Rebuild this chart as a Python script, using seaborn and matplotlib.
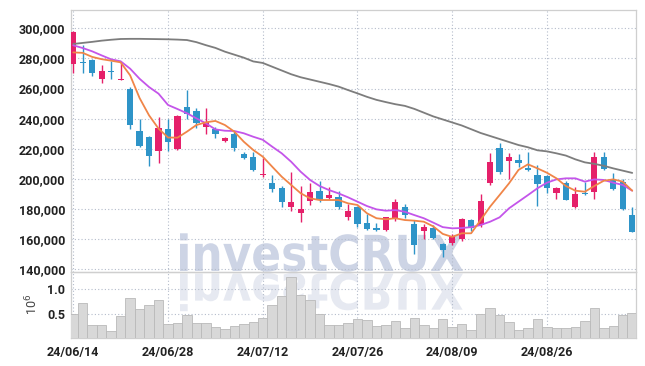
import matplotlib
matplotlib.use('Agg')
import numpy as np
import pandas as pd
import matplotlib.pyplot as plt
import seaborn as sns
from matplotlib.textpath import TextPath
from matplotlib.patches import PathPatch
from matplotlib.font_manager import FontProperties
from matplotlib.transforms import Affine2D

# daily candles (KRW), 60 trading days 24/06/14 .. 24/09/06
opens = [276500, 277800, 279200, 266100, 271800, 265800, 259900, 231800, 228000, 218700,
         233100, 220100, 247800, 245100, 234700, 233100, 225400, 229800, 216500, 214700,
         202400, 197500, 194000, 181500, 177600, 185100, 192200, 187300, 188000, 174700,
         181600, 170500, 167400, 166100, 174100, 181200, 170000, 165600, 167400, 156700,
         157600, 159900, 172700, 169400, 197500, 220300, 212100, 212600, 207500, 202600,
         201900, 190900, 197100, 181200, 190200, 191100, 214400, 199300, 198200, 176000]
closes = [297500, 276800, 270000, 271700, 271200, 266300, 236000, 222000, 215500, 233600,
          224700, 241800, 243100, 237000, 237600, 230000, 227400, 220700, 213900, 206000,
          203600, 193500, 184900, 184700, 180000, 191300, 186000, 189300, 181600, 178900,
          170000, 166500, 166200, 174500, 184700, 175900, 156100, 167900, 161000, 152800,
          162100, 173400, 167200, 185400, 211200, 204600, 214400, 210400, 205800, 196400,
          194200, 193800, 186200, 190000, 189800, 214400, 206400, 193300, 179800, 165000]
highs = [298000, 288700, 279500, 275400, 278000, 277000, 261000, 239600, 228800, 241300,
         239600, 242500, 259000, 247300, 247300, 234700, 227600, 231800, 218000, 218000,
         214000, 202600, 195300, 204600, 195500, 197500, 198800, 194900, 192200, 183400,
         182200, 176700, 170500, 175000, 186500, 183400, 172700, 170000, 169400, 157500,
         163400, 174000, 173300, 190000, 217000, 223600, 217000, 216600, 218100, 209200,
         202500, 194900, 198800, 194400, 198200, 218100, 218100, 204100, 199700, 181200]
lows = [270500, 270000, 268500, 264000, 266500, 265500, 233400, 221000, 208600, 210800,
        218700, 219500, 239600, 233500, 229600, 227400, 224700, 218500, 213200, 205500,
        201500, 191300, 181200, 178800, 171400, 182700, 184700, 186800, 179800, 172700,
        167900, 165900, 165500, 165300, 171900, 174100, 150200, 159900, 160100, 148400,
        155900, 159000, 165600, 168300, 196000, 203100, 199700, 208100, 205300, 182000,
        190900, 186500, 185800, 180800, 189300, 186700, 206000, 192800, 179500, 164800]

# moving averages as drawn
ma_short = [284000, 283700, 281000, 279500, 278500, 277400, 268800, 253700, 242200, 233400,
            227500, 227400, 231400, 235800, 237600, 238500, 235800, 231400, 224700, 219200,
            214800, 208100, 201500, 196000, 190500, 187100, 186000, 186000, 186000, 183800,
            182700, 177200, 173900, 173200, 173900, 172700, 172300, 171600, 168500, 163500,
            161500, 163900, 163900, 172700, 181600, 189300, 197100, 206000, 209700, 207000,
            204100, 200400, 195300, 192200, 191500, 195300, 198800, 199700, 198200, 192200]
ma_mid = [288700, 286900, 284700, 282000, 279400, 278100, 273200, 266500, 261000, 256600,
          249100, 246400, 243600, 240200, 236900, 232900, 232000, 231800, 230300, 228000,
          226000, 221400, 217000, 211400, 204800, 199300, 195300, 192600, 190400, 187800,
          184900, 182000, 179800, 178900, 179300, 178200, 176000, 173900, 171000, 168000,
          167200, 167400, 168000, 169400, 171600, 174500, 180500, 184900, 189300, 193800,
          197500, 199700, 200400, 200400, 198200, 199700, 199300, 197500, 196000, 192200]
ma_long = [289600, 290300, 291000, 291800, 292400, 292900, 293000, 293000, 292900, 292800,
           292700, 292500, 292200, 290800, 288800, 287000, 284500, 282500, 280500, 278000,
           277000, 274500, 272000, 269500, 267500, 266000, 264500, 263000, 261300, 259000,
           256800, 254500, 252500, 251000, 249600, 248500, 246500, 244000, 241500, 239500,
           237500, 235500, 233000, 230500, 228500, 226500, 224500, 222500, 221000, 219000,
           218300, 217000, 215500, 213000, 211000, 210000, 208700, 207000, 205500, 204000]

# volume in millions of shares
volume = [0.50, 0.72, 0.29, 0.29, 0.17, 0.47, 0.82, 0.61, 0.68, 0.78,
          0.31, 0.33, 0.49, 0.32, 0.32, 0.25, 0.20, 0.27, 0.31, 0.35,
          0.43, 0.68, 0.86, 1.23, 0.88, 0.78, 0.51, 0.29, 0.29, 0.33,
          0.41, 0.39, 0.27, 0.29, 0.37, 0.22, 0.42, 0.29, 0.22, 0.40,
          0.24, 0.31, 0.18, 0.51, 0.62, 0.49, 0.34, 0.18, 0.22, 0.40,
          0.24, 0.22, 0.22, 0.24, 0.36, 0.62, 0.22, 0.26, 0.49, 0.52]

tick_pos = [0, 10, 20, 30, 40, 50]
tick_labels = ['24/06/14', '24/06/28', '24/07/12', '24/07/26', '24/08/09', '24/08/26']
price_ticks = [140000, 160000, 180000, 200000, 220000, 240000, 260000, 280000, 300000]

df = pd.DataFrame({'open': opens, 'close': closes, 'high': highs, 'low': lows,
                   'ma5': ma_short, 'ma10': ma_mid, 'ma60': ma_long, 'vol': volume})
df['day'] = np.arange(len(df))

sns.set_style('white')
plt.rcParams['font.family'] = ['Roboto', 'DejaVu Sans']

UP = '#e5206a'
DOWN = '#2e94c8'
GRID = '#b4bccb'
SPINE = '#cfcfcf'

fig = plt.figure(figsize=(6.45, 3.66), dpi=100)
ax = fig.add_axes([71/645, (366-271.5)/366, 565/645, 261.5/366])
axv = fig.add_axes([71/645, (366-337.7)/366, 565/645, 65.7/366], sharex=ax)
for a in (ax, axv):
    a.set_facecolor('none')

# watermark + reflection, behind everything
fp = FontProperties(family='DejaVu Sans', weight='bold')
tp = TextPath((0, 0), 'investCRUX', size=1, prop=fp)
ext = tp.get_extents()
sx = 283 / ext.width
sy = 37.7 / ext.y1
px = Affine2D().scale(1/100.0)
wm = PathPatch(tp, transform=Affine2D().translate(-ext.x0, 0).scale(sx, sy).translate(180, 95) + px + fig.dpi_scale_trans,
               facecolor='#cdd4e5', edgecolor='none', zorder=-5)
rf = PathPatch(tp, transform=Affine2D().translate(-ext.x0, 0).scale(sx, -sy).translate(180, 92.5) + px + fig.dpi_scale_trans,
               facecolor='#e6e9f1', edgecolor='none', zorder=-5)
fig.patches.extend([wm, rf])

# candles
up = df['close'] >= df['open']
colors = np.where(up, UP, DOWN)
ax.vlines(df['day'], df['low'], df['high'], colors=colors, linewidth=1.0, zorder=3)
body_low = df[['open', 'close']].min(axis=1)
body_h = (df['close'] - df['open']).abs().clip(lower=600)
ax.bar(df['day'], body_h, bottom=body_low, width=0.66, color=colors, linewidth=0, zorder=4)

# moving averages
sns.lineplot(data=df, x='day', y='ma60', ax=ax, color='#7d7d7d', linewidth=1.3, zorder=5)
sns.lineplot(data=df, x='day', y='ma10', ax=ax, color='#c455ea', linewidth=1.3, zorder=5)
sns.lineplot(data=df, x='day', y='ma5', ax=ax, color='#f08548', linewidth=1.3, zorder=6)

ax.set_xlim(-0.24, 59.4)
ax.set_ylim(138540, 312150)
ax.set_yticks(price_ticks)
ax.set_yticklabels([f'{v:,}' for v in price_ticks])
ax.set_xlabel('')
ax.set_ylabel('')

# volume
axv.bar(df['day'], df['vol'], width=1.0, color='#d8d8d8', edgecolor='#b9b9b9', linewidth=0.6, zorder=3)
axv.set_ylim(0.0375, 1.336)
axv.set_yticks([0.5, 1.0])
axv.set_yticklabels(['0.5', '1.0'])
axv.set_xticks(tick_pos)
axv.set_xticklabels(tick_labels)
axv.set_ylabel('10$^6$', fontsize=9, color='#444', labelpad=5)

for a in (ax, axv):
    a.grid(True, linestyle=(0, (1, 2)), color=GRID, linewidth=0.8)
    a.tick_params(length=0, labelsize=9, colors='#222', pad=4)
    for lab in a.get_yticklabels() + a.get_xticklabels():
        lab.set_fontweight('bold')
    for s in a.spines.values():
        s.set_color(SPINE)
        s.set_linewidth(0.9)
ax.tick_params(labelbottom=False)
axv.tick_params(axis='x', pad=6)

fig.savefig('out.png', dpi=100)
